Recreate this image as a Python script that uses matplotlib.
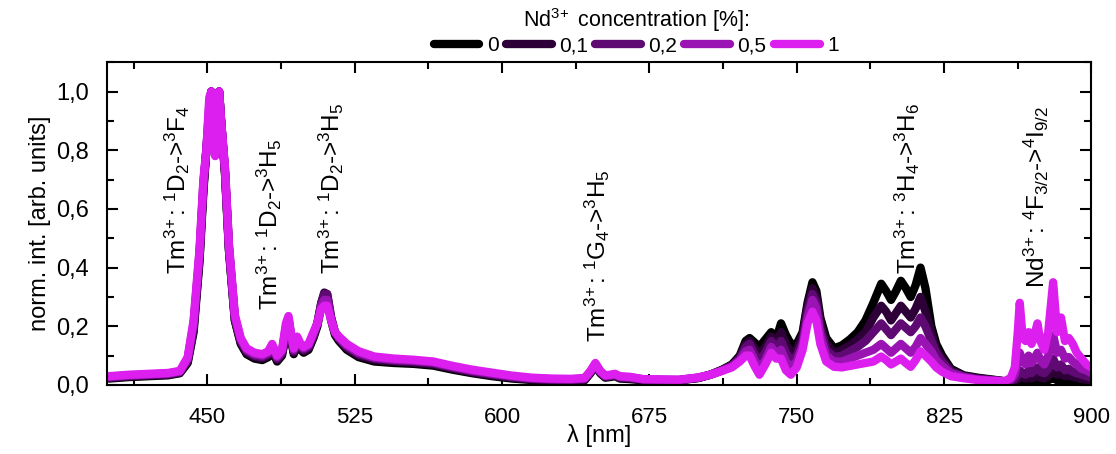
import matplotlib
matplotlib.use("Agg")
import matplotlib.pyplot as plt
from matplotlib.ticker import MultipleLocator, FuncFormatter

plt.rcParams['font.family'] = ['Liberation Sans', 'DejaVu Sans']
plt.rcParams['mathtext.fontset'] = 'custom'
plt.rcParams['mathtext.rm'] = 'Liberation Sans'
plt.rcParams['mathtext.it'] = 'Liberation Sans:italic'
plt.rcParams['mathtext.bf'] = 'Liberation Sans:bold'

# emission spectra, normalised, for each Nd3+ doping level
wl = [400, 410, 420, 430, 436, 440, 443, 446, 448, 449.5,
      451, 452, 453, 454, 455, 456, 457, 459, 461, 464,
      467, 470, 474, 478, 481, 483, 485.5, 488, 490, 491.3,
      492.5, 494, 495.7, 497.5, 499, 501.5, 504, 506, 508, 509.5,
      511, 513, 515, 517, 521, 527, 535, 545, 555, 565,
      575, 585, 595, 605, 615, 625, 635, 642, 645, 647.5,
      650, 652.5, 655, 657.5, 660, 665, 672, 680, 690, 700,
      706, 712, 717, 721, 724, 726, 728.5, 731, 734, 737,
      739.5, 742, 744.5, 747, 750, 753, 755.5, 758, 760, 762,
      765, 769, 773, 777, 781, 785, 789, 793, 795.5, 798,
      800.5, 803, 805.5, 808, 810.5, 813, 815.5, 818.5, 821, 824,
      828.5, 835, 842, 850, 856, 859, 861, 862.5, 863.5, 865,
      866.5, 868, 869.5, 871, 872.5, 874, 876, 878, 880.5, 882.5,
      884.5, 886.5, 888.5, 890.5, 892.5, 895, 897.5, 900]

nd_0 = [0.022, 0.027, 0.030, 0.033, 0.040, 0.075, 0.18, 0.42, 0.66, 0.80,
        0.90, 1.00, 0.96, 0.92, 0.98, 1.00, 0.90, 0.72, 0.46, 0.22,
        0.14, 0.105, 0.09, 0.085, 0.095, 0.12, 0.08, 0.10, 0.17, 0.21,
        0.16, 0.105, 0.145, 0.12, 0.11, 0.12, 0.16, 0.20, 0.27, 0.30,
        0.30, 0.22, 0.17, 0.15, 0.12, 0.095, 0.08, 0.075, 0.072, 0.066,
        0.052, 0.04, 0.03, 0.022, 0.017, 0.014, 0.013, 0.016, 0.04, 0.065,
        0.04, 0.025, 0.027, 0.03, 0.022, 0.02, 0.016, 0.015, 0.016, 0.024,
        0.035, 0.052, 0.07, 0.10, 0.15, 0.16, 0.145, 0.13, 0.155, 0.18,
        0.155, 0.21, 0.17, 0.14, 0.14, 0.18, 0.28, 0.35, 0.32, 0.23,
        0.16, 0.125, 0.135, 0.155, 0.18, 0.22, 0.28, 0.345, 0.32, 0.29,
        0.32, 0.355, 0.33, 0.30, 0.34, 0.40, 0.33, 0.20, 0.14, 0.10,
        0.055, 0.033, 0.025, 0.018, 0.013, 0.012, 0.012, 0.014, 0.018, 0.015,
        0.012, 0.016, 0.012, 0.015, 0.02, 0.014, 0.012, 0.016, 0.025, 0.016,
        0.02, 0.014, 0.015, 0.013, 0.012, 0.01, 0.01, 0.01]

nd_01 = [0.024, 0.029, 0.032, 0.035, 0.042, 0.080, 0.19, 0.43, 0.67, 0.80,
         0.92, 1.00, 0.95, 0.92, 0.99, 1.00, 0.90, 0.72, 0.46, 0.22,
         0.145, 0.11, 0.095, 0.09, 0.10, 0.125, 0.085, 0.105, 0.18, 0.22,
         0.165, 0.11, 0.15, 0.125, 0.115, 0.125, 0.165, 0.21, 0.28, 0.315,
         0.31, 0.23, 0.175, 0.155, 0.125, 0.10, 0.085, 0.08, 0.076, 0.07,
         0.056, 0.043, 0.033, 0.025, 0.019, 0.016, 0.015, 0.018, 0.042, 0.068,
         0.042, 0.027, 0.029, 0.032, 0.024, 0.022, 0.017, 0.016, 0.016, 0.024,
         0.035, 0.051, 0.068, 0.095, 0.14, 0.15, 0.125, 0.105, 0.13, 0.165,
         0.14, 0.18, 0.14, 0.11, 0.12, 0.17, 0.27, 0.33, 0.30, 0.21,
         0.14, 0.11, 0.12, 0.135, 0.155, 0.18, 0.23, 0.27, 0.25, 0.22,
         0.245, 0.27, 0.25, 0.23, 0.26, 0.30, 0.25, 0.18, 0.12, 0.09,
         0.05, 0.031, 0.023, 0.017, 0.012, 0.013, 0.015, 0.02, 0.03, 0.025,
         0.022, 0.03, 0.022, 0.028, 0.035, 0.025, 0.022, 0.03, 0.05, 0.035,
         0.04, 0.03, 0.032, 0.028, 0.025, 0.02, 0.018, 0.015]

nd_02 = [0.026, 0.031, 0.034, 0.037, 0.044, 0.085, 0.20, 0.44, 0.68, 0.80,
         0.94, 1.00, 0.90, 0.85, 0.95, 1.00, 0.90, 0.73, 0.47, 0.23,
         0.15, 0.115, 0.10, 0.095, 0.105, 0.13, 0.09, 0.11, 0.19, 0.225,
         0.17, 0.115, 0.155, 0.13, 0.12, 0.13, 0.17, 0.21, 0.28, 0.31,
         0.31, 0.23, 0.18, 0.16, 0.13, 0.105, 0.09, 0.083, 0.08, 0.074,
         0.059, 0.046, 0.036, 0.027, 0.021, 0.018, 0.017, 0.02, 0.044, 0.07,
         0.044, 0.029, 0.031, 0.034, 0.026, 0.024, 0.018, 0.017, 0.017, 0.025,
         0.035, 0.05, 0.066, 0.09, 0.13, 0.14, 0.105, 0.08, 0.11, 0.15,
         0.125, 0.15, 0.11, 0.085, 0.10, 0.15, 0.25, 0.31, 0.28, 0.19,
         0.12, 0.095, 0.10, 0.115, 0.13, 0.15, 0.18, 0.21, 0.19, 0.17,
         0.19, 0.21, 0.195, 0.18, 0.20, 0.23, 0.20, 0.15, 0.11, 0.08,
         0.045, 0.029, 0.021, 0.016, 0.012, 0.015, 0.02, 0.035, 0.05, 0.04,
         0.035, 0.05, 0.04, 0.05, 0.06, 0.045, 0.04, 0.055, 0.09, 0.06,
         0.07, 0.05, 0.055, 0.045, 0.04, 0.035, 0.03, 0.025]

nd_05 = [0.028, 0.033, 0.036, 0.039, 0.046, 0.090, 0.21, 0.45, 0.69, 0.80,
         0.96, 1.00, 0.85, 0.80, 0.92, 1.00, 0.90, 0.73, 0.47, 0.23,
         0.155, 0.12, 0.105, 0.10, 0.11, 0.135, 0.095, 0.115, 0.20, 0.23,
         0.175, 0.12, 0.16, 0.135, 0.125, 0.135, 0.175, 0.21, 0.27, 0.29,
         0.29, 0.225, 0.18, 0.16, 0.135, 0.11, 0.093, 0.086, 0.083, 0.077,
         0.062, 0.049, 0.039, 0.03, 0.023, 0.02, 0.019, 0.022, 0.046, 0.072,
         0.046, 0.031, 0.033, 0.036, 0.028, 0.026, 0.019, 0.018, 0.017, 0.025,
         0.035, 0.049, 0.063, 0.085, 0.115, 0.12, 0.085, 0.055, 0.085, 0.13,
         0.105, 0.12, 0.08, 0.06, 0.08, 0.135, 0.23, 0.29, 0.26, 0.17,
         0.10, 0.08, 0.08, 0.09, 0.10, 0.11, 0.12, 0.14, 0.125, 0.11,
         0.125, 0.14, 0.125, 0.11, 0.13, 0.16, 0.14, 0.115, 0.085, 0.065,
         0.04, 0.027, 0.019, 0.015, 0.012, 0.018, 0.035, 0.08, 0.11, 0.08,
         0.07, 0.10, 0.075, 0.09, 0.11, 0.085, 0.07, 0.10, 0.17, 0.11,
         0.12, 0.09, 0.095, 0.08, 0.07, 0.055, 0.05, 0.04]

nd_1 = [0.030, 0.035, 0.038, 0.041, 0.048, 0.095, 0.22, 0.46, 0.70, 0.80,
        0.98, 1.00, 0.82, 0.78, 0.90, 1.00, 0.90, 0.74, 0.48, 0.24,
        0.16, 0.125, 0.11, 0.105, 0.115, 0.14, 0.10, 0.12, 0.21, 0.235,
        0.18, 0.125, 0.165, 0.14, 0.13, 0.14, 0.18, 0.21, 0.26, 0.27,
        0.27, 0.22, 0.18, 0.165, 0.14, 0.115, 0.097, 0.09, 0.086, 0.08,
        0.065, 0.052, 0.042, 0.032, 0.025, 0.022, 0.021, 0.024, 0.048, 0.075,
        0.048, 0.033, 0.035, 0.038, 0.03, 0.028, 0.02, 0.019, 0.018, 0.026,
        0.035, 0.048, 0.06, 0.08, 0.10, 0.10, 0.065, 0.035, 0.07, 0.11,
        0.09, 0.09, 0.05, 0.035, 0.06, 0.12, 0.21, 0.25, 0.22, 0.14,
        0.08, 0.062, 0.06, 0.065, 0.07, 0.075, 0.08, 0.097, 0.085, 0.07,
        0.08, 0.09, 0.075, 0.062, 0.085, 0.115, 0.10, 0.08, 0.06, 0.045,
        0.03, 0.023, 0.017, 0.014, 0.013, 0.025, 0.06, 0.18, 0.28, 0.16,
        0.15, 0.18, 0.14, 0.17, 0.21, 0.15, 0.12, 0.18, 0.35, 0.18,
        0.23, 0.15, 0.16, 0.14, 0.11, 0.09, 0.07, 0.06]

conc_labels = ['0', '0,1', '0,2', '0,5', '1']
colors = ['#000000', '#2e0038', '#5e0a72', '#9a14b4', '#dc1eee']
series = [nd_0, nd_01, nd_02, nd_05, nd_1]

fig = plt.figure(figsize=(11.16, 4.54), dpi=100)
ax = fig.add_axes([0.096, 0.152, 0.882, 0.711])

for ys, c, lab in zip(series, colors, conc_labels):
    ax.plot(wl, ys, color=c, lw=6, solid_capstyle='round',
            solid_joinstyle='round', label=lab)

ax.set_xlim(399, 900)
ax.set_ylim(0, 1.1)
ax.xaxis.set_major_locator(MultipleLocator(75))
ax.xaxis.set_minor_locator(MultipleLocator(37.5))
ax.yaxis.set_major_locator(MultipleLocator(0.2))
ax.yaxis.set_minor_locator(MultipleLocator(0.1))
ax.yaxis.set_major_formatter(FuncFormatter(lambda v, p: f"{v:.1f}".replace('.', ',')))
ax.tick_params(which='both', direction='in', top=True, right=True, width=1.5)
ax.tick_params(which='major', length=8)
ax.tick_params(which='minor', length=5)
ax.tick_params(axis='x', which='major', labelsize=16, pad=16)
ax.tick_params(axis='y', which='major', labelsize=17, pad=13)
for sp in ax.spines.values():
    sp.set_linewidth(1.5)

ax.set_xlabel('λ [nm]', fontsize=17, labelpad=-3)
ax.set_ylabel('norm. int. [arb. units]', fontsize=17, labelpad=4)

# transition labels
tm = 'Tm$^{3\\!+}$: '
notes = [
    (435.0, 0.377, tm + '$^{1}$D$_{2}$->$^{3}$F$_{4}$'),
    (481.5, 0.257, tm + '$^{1}$D$_{2}$->$^{3}$H$_{5}$'),
    (513.0, 0.377, tm + '$^{1}$D$_{2}$->$^{3}$H$_{5}$'),
    (648.5, 0.147, tm + '$^{1}$G$_{4}$->$^{3}$H$_{5}$'),
    (806.5, 0.377, tm + '$^{3}$H$_{4}$->$^{3}$H$_{6}$'),
    (872.0, 0.33, 'Nd$^{3\\!+}$: $^{4}$F$_{3/2}$->$^{4}$I$_{9/2}$'),
]
for x, y, t in notes:
    ax.text(x, y, t, rotation=90, ha='center', va='bottom', fontsize=17.5)

leg = fig.legend(loc='upper center', bbox_to_anchor=(0.57, 1.015), ncol=5,
                 frameon=False, fontsize=15, title='Nd$^{3\\!+}$ concentration [%]:',
                 title_fontsize=15.5, handlelength=2.2, handletextpad=0.35,
                 columnspacing=0.35, borderaxespad=0.2, labelspacing=0.2)
leg._legend_box.sep = 2

fig.savefig('out.png', dpi=100)
